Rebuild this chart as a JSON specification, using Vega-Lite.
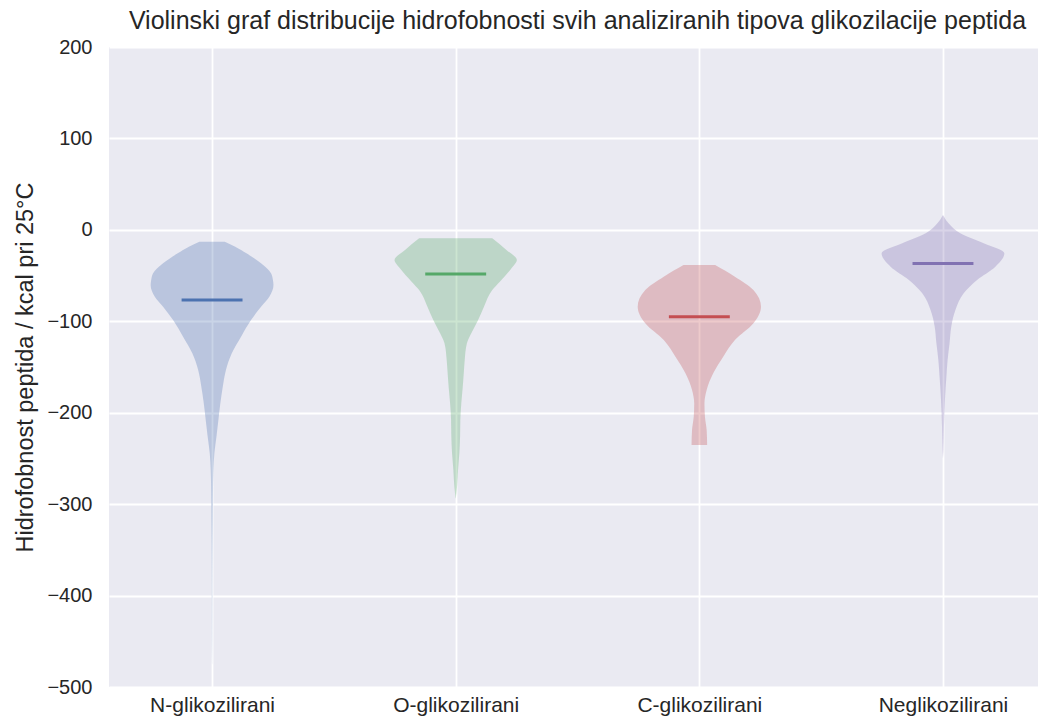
{
  "$schema": "https://vega.github.io/schema/vega-lite/v6.json",
  "autosize": {"type": "none"},
  "padding": {"left": 109, "top": 47, "right": 0, "bottom": 33},
  "width": 929,
  "height": 640,
  "background": "white",
  "title": {
    "text": "Violinski graf distribucije hidrofobnosti svih analiziranih tipova glikozilacije peptida",
    "font": "Liberation Sans",
    "fontSize": 25,
    "fontWeight": "normal",
    "color": "#262626",
    "anchor": "middle",
    "dx": 4,
    "offset": 3
  },
  "config": {
    "view": {"fill": "#EAEAF2", "stroke": null},
    "axis": {
      "domain": false,
      "ticks": false,
      "grid": true,
      "gridColor": "#FFFFFF",
      "gridWidth": 1.8,
      "labelFont": "Liberation Sans",
      "labelFontSize": 20,
      "labelColor": "#262626",
      "titleFont": "Liberation Sans",
      "titleFontSize": 23.5,
      "titleFontWeight": "normal",
      "titleColor": "#262626"
    }
  },
  "datasets": {
    "violin": [
      {"g": "N", "y": -13.0, "lo": 0.948, "hi": 1.052},
      {"g": "N", "y": -18.4, "lo": 0.905, "hi": 1.095},
      {"g": "N", "y": -25.7, "lo": 0.859, "hi": 1.141},
      {"g": "N", "y": -36.6, "lo": 0.799, "hi": 1.201},
      {"g": "N", "y": -47.5, "lo": 0.758, "hi": 1.242},
      {"g": "N", "y": -55.0, "lo": 0.750, "hi": 1.250},
      {"g": "N", "y": -60.3, "lo": 0.748, "hi": 1.252},
      {"g": "N", "y": -73.1, "lo": 0.765, "hi": 1.235},
      {"g": "N", "y": -84.0, "lo": 0.799, "hi": 1.201},
      {"g": "N", "y": -98.6, "lo": 0.840, "hi": 1.160},
      {"g": "N", "y": -116.9, "lo": 0.881, "hi": 1.119},
      {"g": "N", "y": -135.0, "lo": 0.919, "hi": 1.081},
      {"g": "N", "y": -153.3, "lo": 0.943, "hi": 1.057},
      {"g": "N", "y": -171.5, "lo": 0.956, "hi": 1.044},
      {"g": "N", "y": -189.7, "lo": 0.966, "hi": 1.034},
      {"g": "N", "y": -208.0, "lo": 0.974, "hi": 1.026},
      {"g": "N", "y": -226.2, "lo": 0.982, "hi": 1.018},
      {"g": "N", "y": -244.4, "lo": 0.9905, "hi": 1.0095},
      {"g": "N", "y": -262.6, "lo": 0.9945, "hi": 1.0055},
      {"g": "N", "y": -280.9, "lo": 0.996, "hi": 1.004},
      {"g": "N", "y": -317.3, "lo": 0.997, "hi": 1.003},
      {"g": "N", "y": -354.0, "lo": 0.998, "hi": 1.002},
      {"g": "N", "y": -390.0, "lo": 0.9986, "hi": 1.0014},
      {"g": "N", "y": -445.0, "lo": 0.999, "hi": 1.001},
      {"g": "N", "y": -475.0, "lo": 0.9997, "hi": 1.0003},

      {"g": "O", "y": -9.2, "lo": 1.850, "hi": 2.150},
      {"g": "O", "y": -22.0, "lo": 1.792, "hi": 2.208},
      {"g": "O", "y": -33.0, "lo": 1.749, "hi": 2.251},
      {"g": "O", "y": -42.0, "lo": 1.771, "hi": 2.229},
      {"g": "O", "y": -56.7, "lo": 1.819, "hi": 2.181},
      {"g": "O", "y": -65.8, "lo": 1.850, "hi": 2.150},
      {"g": "O", "y": -84.0, "lo": 1.884, "hi": 2.116},
      {"g": "O", "y": -98.6, "lo": 1.908, "hi": 2.092},
      {"g": "O", "y": -109.5, "lo": 1.929, "hi": 2.071},
      {"g": "O", "y": -124.0, "lo": 1.954, "hi": 2.046},
      {"g": "O", "y": -142.3, "lo": 1.963, "hi": 2.037},
      {"g": "O", "y": -153.3, "lo": 1.966, "hi": 2.034},
      {"g": "O", "y": -171.5, "lo": 1.971, "hi": 2.029},
      {"g": "O", "y": -189.7, "lo": 1.977, "hi": 2.023},
      {"g": "O", "y": -208.0, "lo": 1.981, "hi": 2.019},
      {"g": "O", "y": -226.0, "lo": 1.982, "hi": 2.018},
      {"g": "O", "y": -244.4, "lo": 1.985, "hi": 2.015},
      {"g": "O", "y": -262.6, "lo": 1.9904, "hi": 2.0096},
      {"g": "O", "y": -281.0, "lo": 1.9945, "hi": 2.0055},
      {"g": "O", "y": -293.6, "lo": 1.9995, "hi": 2.0005},

      {"g": "C", "y": -38.4, "lo": 2.935, "hi": 3.065},
      {"g": "C", "y": -51.2, "lo": 2.854, "hi": 3.146},
      {"g": "C", "y": -65.8, "lo": 2.778, "hi": 3.222},
      {"g": "C", "y": -84.0, "lo": 2.747, "hi": 3.253},
      {"g": "C", "y": -102.2, "lo": 2.778, "hi": 3.222},
      {"g": "C", "y": -120.5, "lo": 2.854, "hi": 3.146},
      {"g": "C", "y": -138.7, "lo": 2.902, "hi": 3.098},
      {"g": "C", "y": -156.9, "lo": 2.943, "hi": 3.057},
      {"g": "C", "y": -175.2, "lo": 2.970, "hi": 3.030},
      {"g": "C", "y": -189.7, "lo": 2.979, "hi": 3.021},
      {"g": "C", "y": -204.4, "lo": 2.977, "hi": 3.023},
      {"g": "C", "y": -218.9, "lo": 2.970, "hi": 3.030},
      {"g": "C", "y": -235.3, "lo": 2.968, "hi": 3.032},

      {"g": "Neg", "y": 16.3, "lo": 4.0, "hi": 4.0},
      {"g": "Neg", "y": 7.2, "lo": 3.977, "hi": 4.023},
      {"g": "Neg", "y": -3.8, "lo": 3.929, "hi": 4.071},
      {"g": "Neg", "y": -14.7, "lo": 3.833, "hi": 4.167},
      {"g": "Neg", "y": -25.6, "lo": 3.748, "hi": 4.252},
      {"g": "Neg", "y": -40.3, "lo": 3.785, "hi": 4.215},
      {"g": "Neg", "y": -54.8, "lo": 3.860, "hi": 4.140},
      {"g": "Neg", "y": -69.4, "lo": 3.915, "hi": 4.085},
      {"g": "Neg", "y": -87.6, "lo": 3.949, "hi": 4.051},
      {"g": "Neg", "y": -105.9, "lo": 3.966, "hi": 4.034},
      {"g": "Neg", "y": -124.0, "lo": 3.973, "hi": 4.027},
      {"g": "Neg", "y": -142.3, "lo": 3.981, "hi": 4.019},
      {"g": "Neg", "y": -160.6, "lo": 3.986, "hi": 4.014},
      {"g": "Neg", "y": -186.0, "lo": 3.992, "hi": 4.008},
      {"g": "Neg", "y": -215.3, "lo": 3.996, "hi": 4.004},
      {"g": "Neg", "y": -240.8, "lo": 3.998, "hi": 4.002},
      {"g": "Neg", "y": -250.0, "lo": 4.0, "hi": 4.0}
    ],
    "medians": [
      {"g": "N", "y": -76.8, "lo": 0.875, "hi": 1.125},
      {"g": "O", "y": -48.4, "lo": 1.875, "hi": 2.125},
      {"g": "C", "y": -95.0, "lo": 2.875, "hi": 3.125},
      {"g": "Neg", "y": -36.7, "lo": 3.875, "hi": 4.125}
    ]
  },
  "encoding": {
    "y": {
      "field": "y",
      "type": "quantitative",
      "scale": {"domain": [-500, 200], "nice": false, "zero": false},
      "axis": {
        "values": [-500, -400, -300, -200, -100, 0, 100, 200],
        "labelExpr": "replace(datum.label, '-', '\u2212')",
        "labelPadding": 17,
        "title": "Hidrofobnost peptida / kcal pri 25°C",
        "titlePadding": 9
      }
    },
    "x": {
      "field": "lo",
      "type": "quantitative",
      "scale": {"domain": [0.577, 4.39], "nice": false, "zero": false},
      "axis": {
        "values": [1, 2, 3, 4],
        "labelExpr": "['', 'N-glikozilirani', 'O-glikozilirani', 'C-glikozilirani', 'Neglikozilirani'][datum.value]",
        "labelFontSize": 21,
        "labelPadding": 7,
        "title": null
      }
    },
    "x2": {"field": "hi"},
    "color": {
      "field": "g",
      "type": "nominal",
      "scale": {"domain": ["N", "O", "C", "Neg"], "range": ["#4C72B0", "#55A868", "#C44E52", "#8172B2"]},
      "legend": null
    }
  },
  "layer": [
    {
      "data": {"name": "violin"},
      "mark": {"type": "area", "orient": "horizontal", "opacity": 0.3, "interpolate": "monotone"}
    },
    {
      "data": {"name": "medians"},
      "mark": {"type": "rule", "strokeWidth": 3}
    }
  ]
}
